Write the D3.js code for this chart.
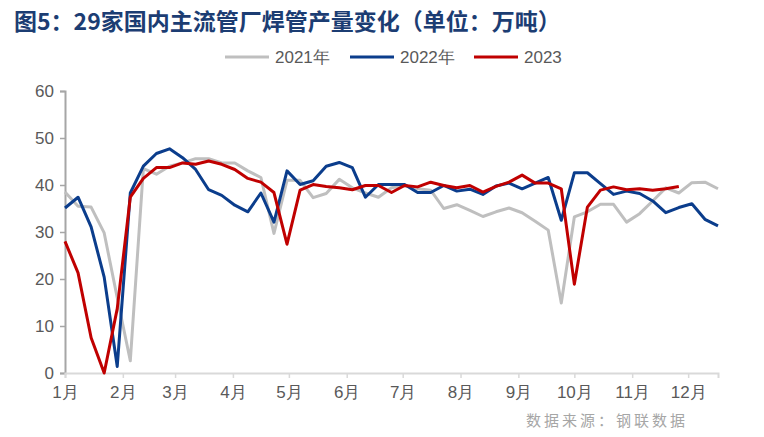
<!DOCTYPE html>
<html>
<head>
<meta charset="utf-8">
<script src="https://cdn.jsdelivr.net/npm/d3@7"></script>
<style>
  body { margin: 0; background: #fff; }
  svg text { font-family: "Liberation Sans", Arial, sans-serif; }
</style>
</head>
<body>
<div id="chart"></div>
<script>
var width = 764;
var height = 437;

// weekly output, 10k tons
var series2021 = [38.5, 35.5, 35.3, 29.8, 16, 2.6, 43.5, 42.3, 44, 44.7,
    45.6, 45.6, 44.7, 44.7, 43, 41.6, 29.7, 41, 41, 37.3,
    38.2, 41.2, 39.4, 38.3, 37.4, 39.4, 39.9, 39.2, 38.9, 35,
    35.8, 34.6, 33.3, 34.3, 35.1, 34.1, 32.3, 30.4, 14.9, 33.2,
    34.3, 35.9, 35.9, 32.1, 33.9, 36.6, 39.4, 38.3, 40.5, 40.6, 39.2];
var series2022 = [35.1, 37.4, 31.1, 20.4, 1.4, 38.3, 44, 46.7, 47.7, 45.8,
    43.3, 39, 37.8, 35.7, 34.3, 38.3, 32.1, 43, 40.1, 40.9,
    44, 44.8, 43.7, 37.4, 40.1, 40.1, 40.1, 38.4, 38.4, 39.9,
    38.7, 39.1, 38, 39.8, 40.4, 39.2, 40.4, 41.6, 32.5, 42.6,
    42.6, 40.3, 38, 38.7, 38.2, 36.6, 34.1, 35.2, 36, 32.7, 31.3];
var series2023 = [28, 21.3, 7.5, 0, 13.7, 37.4, 41.4, 43.7, 43.7, 44.7,
    44.4, 45.1, 44.4, 43.3, 41.4, 40.6, 38.4, 27.4, 38.9, 40.1,
    39.7, 39.4, 39, 39.9, 39.9, 38.4, 39.9, 39.6, 40.6, 39.9,
    39.4, 39.9, 38.5, 39.7, 40.6, 42.1, 40.4, 40.4, 39.2, 18.9,
    35.3, 38.9, 39.6, 39, 39.2, 38.9, 39.2, 39.7];

var seriesNames = ["2021年", "2022年", "2023"];
var seriesColors = ["#bfbfbf", "#0b3d8c", "#c00000"];
var yTicks = [0, 10, 20, 30, 40, 50, 60];

var firstDay = new Date(2023, 0, 1);
var lastDay = new Date(2023, 11, 17);

// one point a week, starting on 1 Jan
function weekDate(i){ return d3.timeDay.offset(firstDay, i * 7); }

var x = d3.scaleTime().domain([firstDay, lastDay]).range([65, 718]);
var y = d3.scaleLinear().domain([0, 60]).range([373, 91]);

var svg = d3.select("#chart")
    .append("svg")
    .attr("width", width)
    .attr("height", height);

// title
svg.append("text")
    .attr("x", 14)
    .attr("y", 30)
    .attr("fill", "#1c3d73")
    .style("font-family", "'Noto Sans CJK SC', sans-serif")
    .style("font-weight", "bold")
    .style("font-size", "23px")
    .text("图5：29家国内主流管厂焊管产量变化（单位：万吨）");

// legend
var legend = svg.append("g").attr("id", "legend");
var legendX = [225, 350, 474];
seriesNames.forEach(function(name, i){
    legend.append("line")
        .attr("x1", legendX[i]).attr("x2", legendX[i] + 44)
        .attr("y1", 57).attr("y2", 57)
        .attr("stroke", seriesColors[i])
        .attr("stroke-width", 3);
    legend.append("text")
        .attr("x", legendX[i] + 50)
        .attr("y", 63)
        .attr("fill", "#595959")
        .style("font-size", "17px")
        .text(name);
});

// y axis
var yAxis = svg.append("g")
    .attr("transform", "translate(65,0)")
    .call(d3.axisLeft(y).tickValues(yTicks).tickSize(5).tickPadding(6));
yAxis.select(".domain").attr("stroke", "#a6a6a6").attr("stroke-width", 2);
yAxis.selectAll(".tick line").attr("stroke", "#a6a6a6").attr("stroke-width", 1.5);
yAxis.selectAll("text").attr("fill", "#595959").style("font-size", "17px");

// x axis, one tick per month
var months = d3.timeMonth.range(firstDay, lastDay);
var xAxis = svg.append("g")
    .attr("transform", "translate(0,373)")
    .call(d3.axisBottom(x)
        .tickValues(months)
        .tickSize(5)
        .tickPadding(8)
        .tickFormat(function(d){ return (d.getMonth() + 1) + "月"; }));
xAxis.select(".domain").attr("stroke", "#d9d9d9").attr("stroke-width", 2);
xAxis.selectAll(".tick line").attr("stroke", "#d9d9d9").attr("stroke-width", 1.5);
xAxis.selectAll("text").attr("fill", "#595959").style("font-size", "17px");

// the lines
var line = d3.line()
    .x(function(d, i){ return x(weekDate(i)); })
    .y(function(d){ return y(d); });

svg.append("g")
    .attr("id", "lines")
    .selectAll("path")
    .data([series2021, series2022, series2023])
    .enter()
        .append("path")
        .attr("d", line)
        .attr("fill", "none")
        .attr("stroke", function(d, i){ return seriesColors[i]; })
        .attr("stroke-width", 3)
        .attr("stroke-linejoin", "round");

// source note
svg.append("text")
    .attr("x", 688)
    .attr("y", 426)
    .attr("text-anchor", "end")
    .attr("fill", "#a6a6a6")
    .style("font-family", "'Noto Sans CJK SC', sans-serif")
    .style("font-size", "15px")
    .style("letter-spacing", "3px")
    .text("数据来源：钢联数据");
</script>
</body>
</html>
